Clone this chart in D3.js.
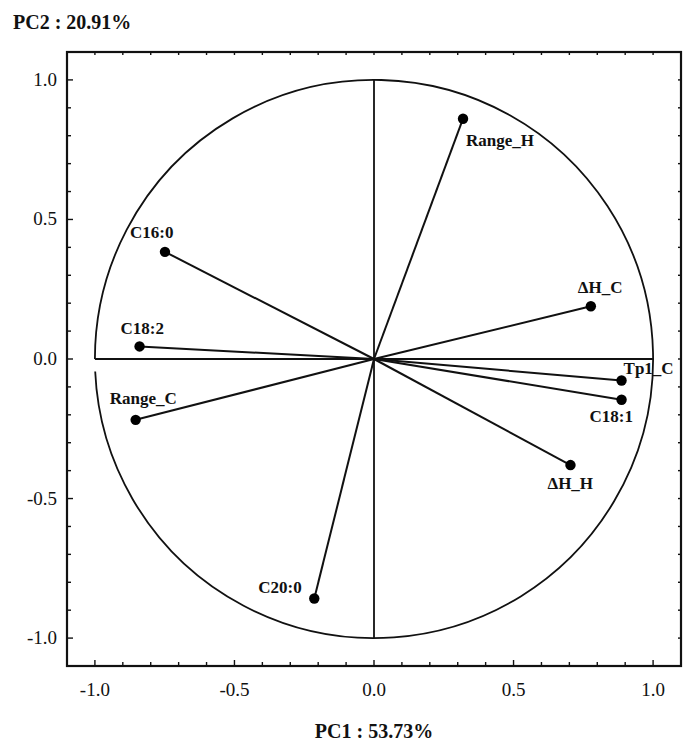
<!DOCTYPE html>
<html>
<head>
<meta charset="utf-8">
<script src="https://cdn.jsdelivr.net/npm/d3@7"></script>
<style>
  body { margin: 0; background: #fff; }
  text { font-family: "Liberation Serif", "DejaVu Serif", serif; fill: #111; }
</style>
</head>
<body>
<script>
// loadings
var names = ["Range_H", "C16:0", "\u0394H_C", "C18:2", "Tp1_C", "C18:1", "Range_C", "\u0394H_H", "C20:0"];
var pc1 = [0.319, -0.749, 0.777, -0.840, 0.887, 0.887, -0.854, 0.704, -0.214];
var pc2 = [0.861, 0.384, 0.189, 0.045, -0.077, -0.146, -0.218, -0.380, -0.858];
var tickLabels = [-1.0, -0.5, 0.0, 0.5, 1.0];
var xTitle = "PC1 : 53.73%";
var yTitle = "PC2 : 20.91%";

// label offsets (px) from each point
var labelDx = [3, -35, -13, -19, 2, -32, -26, -23, -56];
var labelDy = [27, -14, -13, -12, -6, 22, -16, 24, -5];

var W = 695, H = 751;
var svg = d3.select("body").append("svg")
  .attr("width", W).attr("height", H);

var x = d3.scaleLinear().domain([-1.1, 1.1]).range([67, 681]);
var y = d3.scaleLinear().domain([-1.1, 1.1]).range([666, 52]);

// frame
svg.append("rect")
  .attr("x", x(-1.1)).attr("y", y(1.1))
  .attr("width", x(1.1) - x(-1.1)).attr("height", y(-1.1) - y(1.1))
  .attr("fill", "none").attr("stroke", "#111").attr("stroke-width", 2.2);

// inner ticks on all four sides
var minor = d3.range(-10, 11).map(function(i) { return i / 10; });
var tl = function(v) { return Math.abs(v * 2 - Math.round(v * 2)) < 1e-6 ? 6 : 4; };
var tg = svg.append("g").attr("stroke", "#111").attr("stroke-width", 1.4);
minor.forEach(function(v) {
  tg.append("line").attr("x1", x(v)).attr("x2", x(v)).attr("y1", y(-1.1)).attr("y2", y(-1.1) - tl(v));
  tg.append("line").attr("x1", x(v)).attr("x2", x(v)).attr("y1", y(1.1)).attr("y2", y(1.1) + 3);
  tg.append("line").attr("y1", y(v)).attr("y2", y(v)).attr("x1", x(-1.1)).attr("x2", x(-1.1) + tl(v));
  tg.append("line").attr("y1", y(v)).attr("y2", y(v)).attr("x1", x(1.1)).attr("x2", x(1.1) - 3);
});

// tick labels
var fmt = function(d) { return d3.format(".1f")(d).replace("\u2212", "-"); };
svg.selectAll(".xl").data(tickLabels).enter().append("text")
  .attr("class", "xl")
  .attr("x", function(d) { return x(d); })
  .attr("y", y(-1.1) + 30)
  .attr("text-anchor", "middle")
  .style("font-size", "19px")
  .text(fmt);

svg.selectAll(".yl").data(tickLabels).enter().append("text")
  .attr("class", "yl")
  .attr("x", x(-1.1) - 10)
  .attr("y", function(d) { return y(d) + 6; })
  .attr("text-anchor", "end")
  .style("font-size", "19px")
  .text(fmt);

// axis titles
svg.append("text").attr("x", 13).attr("y", 29)
  .style("font-size", "20px").style("font-weight", "bold").text(yTitle);
svg.append("text").attr("x", x(0)).attr("y", 738)
  .attr("text-anchor", "middle")
  .style("font-size", "20px").style("font-weight", "bold").text(xTitle);

// unit circle, with a small gap on the left just under the axis
var r = x(1) - x(0);
var gap = 0.045;
var p = d3.path();
p.arc(x(0), y(0), r, Math.PI, Math.PI - gap, false);
svg.append("path").attr("d", p.toString())
  .attr("fill", "none").attr("stroke", "#111").attr("stroke-width", 1.8);

// cross lines
svg.append("line").attr("x1", x(-1)).attr("x2", x(1)).attr("y1", y(0)).attr("y2", y(0))
  .attr("stroke", "#111").attr("stroke-width", 1.8);
svg.append("line").attr("x1", x(0)).attr("x2", x(0)).attr("y1", y(1)).attr("y2", y(-1))
  .attr("stroke", "#111").attr("stroke-width", 1.8);

// vectors
var idx = d3.range(names.length);
svg.selectAll(".vec").data(idx).enter().append("line")
  .attr("class", "vec")
  .attr("x1", x(0)).attr("y1", y(0))
  .attr("x2", function(i) { return x(pc1[i]); })
  .attr("y2", function(i) { return y(pc2[i]); })
  .attr("stroke", "#111").attr("stroke-width", 2);

svg.selectAll(".dot").data(idx).enter().append("circle")
  .attr("class", "dot")
  .attr("cx", function(i) { return x(pc1[i]); })
  .attr("cy", function(i) { return y(pc2[i]); })
  .attr("r", 5.2).attr("fill", "#000");

svg.selectAll(".lab").data(idx).enter().append("text")
  .attr("class", "lab")
  .attr("x", function(i) { return x(pc1[i]) + labelDx[i]; })
  .attr("y", function(i) { return y(pc2[i]) + labelDy[i]; })
  .style("font-size", "17px").style("font-weight", "bold")
  .text(function(i) { return names[i]; });
</script>
</body>
</html>
